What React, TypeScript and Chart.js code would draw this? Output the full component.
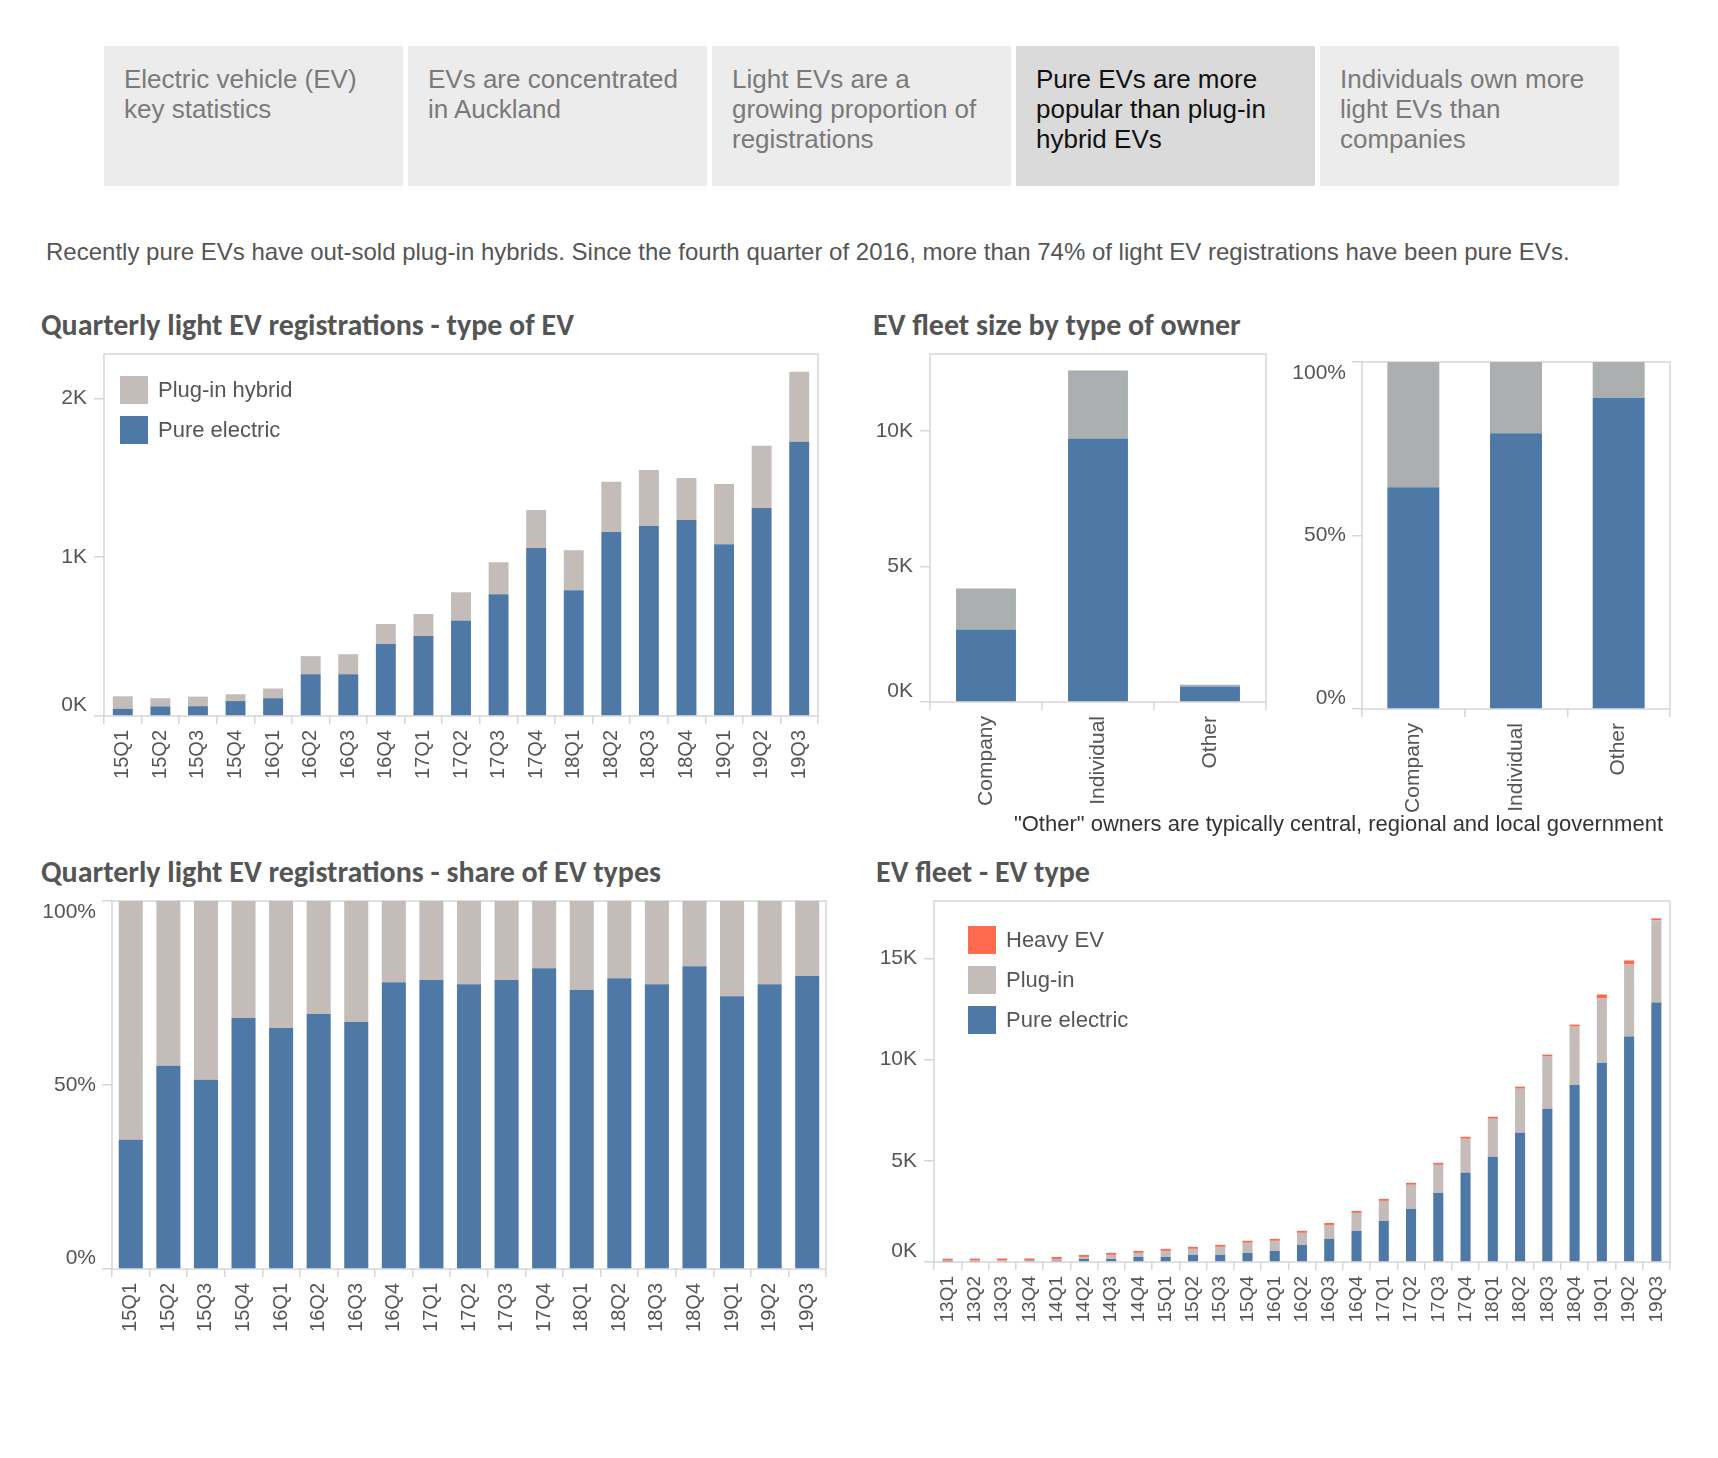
import React, { useEffect, useRef } from "react";
import { Chart, registerables } from "chart.js";

Chart.register(...registerables);

const FONT = "'Liberation Sans', Arial, Helvetica, sans-serif";
const TITLE_FONT = "Carlito, Lato, 'Open Sans', sans-serif";

// ---------- data ----------
const tabLabels = [
  "Electric vehicle (EV) key statistics",
  "EVs are concentrated in Auckland",
  "Light EVs are a growing proportion of registrations",
  "Pure EVs are more popular than plug-in hybrid EVs",
  "Individuals own more light EVs than companies",
];
const selectedTab = 3;

const regQuarters = ["15Q1","15Q2","15Q3","15Q4","16Q1","16Q2","16Q3","16Q4","17Q1","17Q2","17Q3","17Q4","18Q1","18Q2","18Q3","18Q4","19Q1","19Q2","19Q3"];
const regPureElectric = [46, 61, 62, 94, 112, 263, 263, 453, 503, 602, 766, 1057, 792, 1158, 1196, 1234, 1082, 1309, 1726];
const regPluginHybrid = [78, 51, 60, 43, 61, 114, 126, 126, 139, 177, 202, 240, 252, 316, 353, 265, 379, 392, 442];
const regTicks = [0, 1000, 2000];

const sharePureElectric = [35.1, 55.2, 51.4, 68.2, 65.5, 69.3, 67.1, 77.9, 78.5, 77.4, 78.5, 81.7, 75.8, 79.0, 77.4, 82.3, 74.1, 77.4, 79.6];
const pctTicks = [0, 50, 100];

const ownerTypes = ["Company", "Individual", "Other"];
const ownerPureElectric = [2670, 9717, 574];
const ownerPlugin = [1510, 2509, 66];
const ownerTicks = [0, 5000, 10000];

const fleetQuarters = ["13Q1","13Q2","13Q3","13Q4","14Q1","14Q2","14Q3","14Q4","15Q1","15Q2","15Q3","15Q4","16Q1","16Q2","16Q3","16Q4","17Q1","17Q2","17Q3","17Q4","18Q1","18Q2","18Q3","18Q4","19Q1","19Q2","19Q3"];
const fleetPureElectric = [20, 25, 30, 65, 70, 150, 150, 250, 250, 350, 350, 450, 545, 840, 1140, 1535, 2030, 2624, 3416, 4406, 5198, 6386, 7574, 8762, 9851, 11139, 12822];
const fleetPlugin = [45, 45, 45, 15, 80, 100, 200, 200, 300, 300, 400, 500, 500, 600, 690, 890, 990, 1190, 1386, 1683, 1881, 2178, 2574, 2871, 3168, 3564, 4059];
const fleetHeavy = [100, 100, 100, 95, 100, 100, 100, 100, 100, 100, 100, 100, 100, 100, 100, 100, 100, 100, 100, 100, 100, 100, 100, 100, 200, 200, 100];
const fleetTicks = [0, 5000, 10000, 15000];

// ---------- colours ----------
const BLUE = "#4e79a7";
const PLUGIN_COLOR = "#c4bcb9";
const OWNER_GRAY = "#abafb0";
const HEAVY_RED = "#ff6a4f";
const FRAME = "#d6d6d6";
const TICK_TEXT = "#555555";

const framePlugin = {
  id: "frame",
  beforeDatasetsDraw(chart: any) {
    const { ctx, chartArea } = chart;
    const { left, top, right, bottom } = chartArea;
    ctx.save();
    ctx.strokeStyle = FRAME;
    ctx.lineWidth = 1.5;
    ctx.strokeRect(left, top, right - left, bottom - top);
    ctx.restore();
  },
};

type DS = { label: string; data: number[]; color: string };

type BarProps = {
  plotLeft: number;
  plotTop: number;
  plotW: number;
  plotH: number;
  yAxisW: number;
  xAxisH: number;
  padTop: number;
  padRight: number;
  labels: string[];
  datasets: DS[];
  yMax: number;
  yTicks: number[];
  fmt: (v: number) => string;
  barPct: number;
  xFont: number;
  yFont: number;
  labelGap: number;
};

function BarChart(p: BarProps) {
  const ref = useRef<HTMLCanvasElement>(null);
  useEffect(() => {
    // draws the y tick labels, kept inside the plot's vertical range (as the original does)
    const yLabelPlugin = {
      id: "yLabels",
      afterDraw(chart: any) {
        const s = chart.scales.y;
        const { ctx, chartArea } = chart;
        const half = 11;
        ctx.save();
        ctx.font = `${p.yFont}px ${FONT}`;
        ctx.fillStyle = TICK_TEXT;
        ctx.textAlign = "right";
        ctx.textBaseline = "middle";
        for (const v of p.yTicks) {
          let y = s.getPixelForValue(v);
          y = Math.max(chartArea.top + half, Math.min(chartArea.bottom - half, y));
          ctx.fillText(p.fmt(v), chartArea.left - p.labelGap, y);
        }
        ctx.restore();
      },
    };
    const chart = new Chart(ref.current as HTMLCanvasElement, {
      type: "bar",
      data: {
        labels: p.labels,
        datasets: p.datasets.map((d) => ({
          label: d.label,
          data: d.data,
          backgroundColor: d.color,
          borderWidth: 0,
          barPercentage: p.barPct,
          categoryPercentage: 1,
        })),
      },
      options: {
        animation: false,
        responsive: true,
        maintainAspectRatio: false,
        layout: { padding: { top: p.padTop, right: p.padRight, left: 0, bottom: 0 } },
        plugins: { legend: { display: false }, tooltip: { enabled: false } },
        scales: {
          x: {
            stacked: true,
            grid: { display: true, drawOnChartArea: false, drawTicks: true, tickLength: 8, color: FRAME, lineWidth: 1.5, offset: true },
            border: { display: false },
            ticks: {
              minRotation: 90,
              maxRotation: 90,
              autoSkip: false,
              padding: 6,
              color: TICK_TEXT,
              font: { size: p.xFont, family: FONT },
            },
            afterFit: (s: any) => {
              s.height = p.xAxisH;
            },
          },
          y: {
            stacked: true,
            min: 0,
            max: p.yMax,
            grid: { display: true, drawOnChartArea: false, drawTicks: true, tickLength: 10, color: FRAME, lineWidth: 1.5 },
            border: { display: false },
            ticks: { display: false },
            afterBuildTicks: (s: any) => {
              s.ticks = p.yTicks.map((v) => ({ value: v }));
            },
            afterFit: (s: any) => {
              s.width = p.yAxisW;
            },
          },
        },
      } as any,
      plugins: [framePlugin, yLabelPlugin],
    });
    return () => chart.destroy();
  }, []);
  return (
    <div
      style={{
        position: "absolute",
        left: p.plotLeft - p.yAxisW,
        top: p.plotTop - p.padTop,
        width: p.yAxisW + p.plotW + p.padRight,
        height: p.padTop + p.plotH + p.xAxisH,
      }}
    >
      <canvas ref={ref} />
    </div>
  );
}

const kFmt = (v: number) => `${Math.round(v / 1000)}K`;
const pctFmt = (v: number) => `${Math.round(v)}%`;

function Title({ x, baseline, text }: { x: number; baseline: number; text: string }) {
  const size = 30;
  return (
    <div
      style={{
        position: "absolute",
        left: x,
        top: baseline - 0.84 * size,
        fontFamily: TITLE_FONT,
        fontWeight: 700,
        fontSize: size,
        lineHeight: `${size}px`,
        color: "#555555",
        whiteSpace: "nowrap",
      }}
    >
      {text}
    </div>
  );
}

function LegendItem({ x, y, color, text }: { x: number; y: number; color: string; text: string }) {
  return (
    <div style={{ position: "absolute", left: x, top: y, height: 28, display: "flex", alignItems: "center" }}>
      <div style={{ width: 28, height: 28, background: color }} />
      <div style={{ marginLeft: 10, fontFamily: FONT, fontSize: 22, lineHeight: "28px", color: "#555555", whiteSpace: "nowrap" }}>{text}</div>
    </div>
  );
}

const PAD_R = 20;

export default function App() {
  const regShareRest = sharePureElectric.map((v) => 100 - v);
  const ownerPctPure = ownerPureElectric.map((v, i) => (v / (v + ownerPlugin[i])) * 100);
  const ownerPctPlugin = ownerPlugin.map((v, i) => (v / (ownerPureElectric[i] + v)) * 100);

  return (
    <div style={{ position: "absolute", left: 0, top: 0, width: 1718, height: 1458, background: "#ffffff", overflow: "hidden", fontFamily: FONT }}>
      {tabLabels.map((t, i) => (
        <div
          key={t}
          style={{
            position: "absolute",
            left: 104 + i * 304,
            top: 46,
            width: 299,
            height: 140,
            background: i === selectedTab ? "#dadada" : "#ececec",
            boxSizing: "border-box",
            padding: "18px 14px 0 20px",
            fontSize: 26,
            lineHeight: "30px",
            color: i === selectedTab ? "#111111" : "#7a7a7a",
          }}
        >
          {t}
        </div>
      ))}

      <div
        style={{
          position: "absolute",
          left: 46,
          top: 260 - 0.8465 * 24,
          fontSize: 24,
          lineHeight: "24px",
          color: "#555555",
          whiteSpace: "nowrap",
        }}
      >
        Recently pure EVs have out-sold plug-in hybrids. Since the fourth quarter of 2016, more than 74% of light EV registrations have been pure EVs.
      </div>

      <Title x={41} baseline={335} text="Quarterly light EV registrations - type of EV" />
      <Title x={873} baseline={335} text="EV fleet size by type of owner" />
      <Title x={41} baseline={882} text="Quarterly light EV registrations - share of EV types" />
      <Title x={876} baseline={882} text="EV fleet - EV type" />

      <BarChart
        plotLeft={104}
        plotTop={354}
        plotW={714}
        plotH={362}
        yAxisW={64}
        xAxisH={80}
        padTop={16}
        padRight={PAD_R}
        labels={regQuarters}
        datasets={[
          { label: "Pure electric", data: regPureElectric, color: BLUE },
          { label: "Plug-in hybrid", data: regPluginHybrid, color: PLUGIN_COLOR },
        ]}
        yMax={2279}
        yTicks={regTicks}
        fmt={kFmt}
        barPct={0.53}
        xFont={20}
        yFont={21}
        labelGap={17}
      />
      <LegendItem x={120} y={376} color={PLUGIN_COLOR} text="Plug-in hybrid" />
      <LegendItem x={120} y={416} color={BLUE} text="Pure electric" />

      <BarChart
        plotLeft={930}
        plotTop={354}
        plotW={336}
        plotH={348}
        yAxisW={64}
        xAxisH={112}
        padTop={16}
        padRight={PAD_R}
        labels={ownerTypes}
        datasets={[
          { label: "Pure electric", data: ownerPureElectric, color: BLUE },
          { label: "Plug-in", data: ownerPlugin, color: OWNER_GRAY },
        ]}
        yMax={12830}
        yTicks={ownerTicks}
        fmt={kFmt}
        barPct={0.535}
        xFont={21}
        yFont={21}
        labelGap={17}
      />

      <BarChart
        plotLeft={1362}
        plotTop={362}
        plotW={308}
        plotH={347}
        yAxisW={80}
        xAxisH={112}
        padTop={16}
        padRight={PAD_R}
        labels={ownerTypes}
        datasets={[
          { label: "Pure electric", data: ownerPctPure, color: BLUE },
          { label: "Plug-in", data: ownerPctPlugin, color: OWNER_GRAY },
        ]}
        yMax={100}
        yTicks={pctTicks}
        fmt={pctFmt}
        barPct={0.506}
        xFont={21}
        yFont={21}
        labelGap={16}
      />

      <div
        style={{
          position: "absolute",
          right: 1718 - 1663,
          top: 832 - 0.8465 * 22,
          fontSize: 22,
          lineHeight: "22px",
          color: "#333333",
          whiteSpace: "nowrap",
        }}
      >
        "Other" owners are typically central, regional and local government
      </div>

      <BarChart
        plotLeft={112}
        plotTop={901}
        plotW={714}
        plotH={368}
        yAxisW={75}
        xAxisH={80}
        padTop={16}
        padRight={PAD_R}
        labels={regQuarters}
        datasets={[
          { label: "Pure electric", data: sharePureElectric, color: BLUE },
          { label: "Plug-in hybrid", data: regShareRest, color: PLUGIN_COLOR },
        ]}
        yMax={100}
        yTicks={pctTicks}
        fmt={pctFmt}
        barPct={0.64}
        xFont={20}
        yFont={21}
        labelGap={16}
      />

      <BarChart
        plotLeft={934}
        plotTop={901}
        plotW={736}
        plotH={361}
        yAxisW={75}
        xAxisH={80}
        padTop={16}
        padRight={PAD_R}
        labels={fleetQuarters}
        datasets={[
          { label: "Pure electric", data: fleetPureElectric, color: BLUE },
          { label: "Plug-in", data: fleetPlugin, color: PLUGIN_COLOR },
          { label: "Heavy EV", data: fleetHeavy, color: HEAVY_RED },
        ]}
        yMax={17840}
        yTicks={fleetTicks}
        fmt={kFmt}
        barPct={0.37}
        xFont={19}
        yFont={21}
        labelGap={17}
      />
      <LegendItem x={968} y={926} color={HEAVY_RED} text="Heavy EV" />
      <LegendItem x={968} y={966} color={PLUGIN_COLOR} text="Plug-in" />
      <LegendItem x={968} y={1006} color={BLUE} text="Pure electric" />
    </div>
  );
}
